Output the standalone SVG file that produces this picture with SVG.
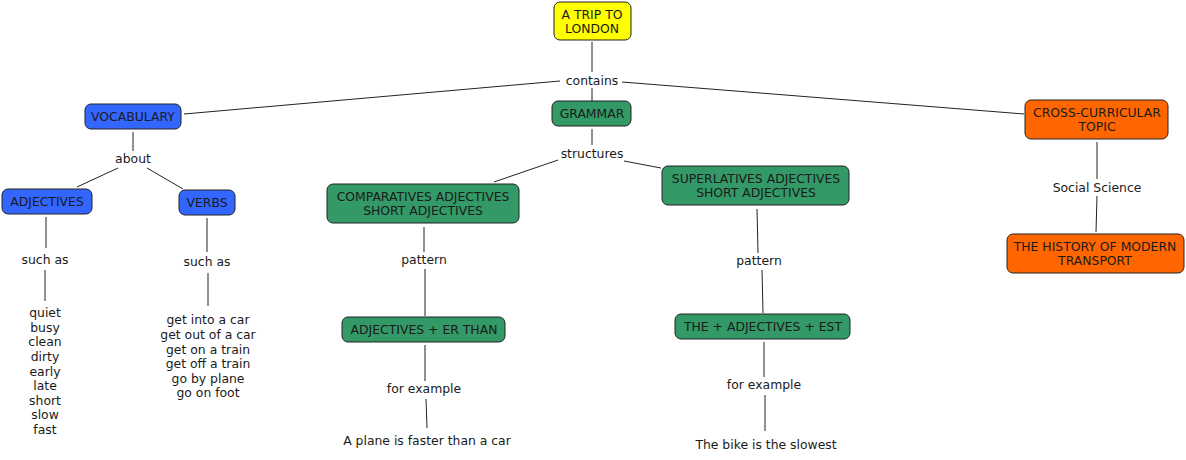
<svg xmlns="http://www.w3.org/2000/svg" width="1186" height="460" viewBox="0 0 1186 460">
<style>
text{font-family:"DejaVu Sans",Verdana,sans-serif;font-size:12.4px;fill:#1a1a1a;text-anchor:middle}
.n{stroke:#222;stroke-width:1}
.y{fill:#ffff00}.b{fill:#3366ff}.g{fill:#339966}.o{fill:#ff6600}
#connectors line{stroke:#222;stroke-width:1}
</style>
<rect width="1186" height="460" fill="#fff"/>
<g id="connectors">
<line x1="592" y1="42" x2="592" y2="72"/>
<line x1="592" y1="88" x2="592" y2="101"/>
<line x1="560" y1="81" x2="184" y2="114"/>
<line x1="622" y1="82" x2="1024" y2="114"/>
<line x1="592" y1="129" x2="592" y2="145"/>
<line x1="558" y1="160" x2="494" y2="182"/>
<line x1="624" y1="161" x2="661" y2="168"/>
<line x1="133" y1="132" x2="133" y2="151"/>
<line x1="118" y1="168" x2="77" y2="187"/>
<line x1="147" y1="168" x2="183" y2="189"/>
<line x1="46" y1="217" x2="46" y2="248"/>
<line x1="45" y1="270" x2="45" y2="301"/>
<line x1="207" y1="218" x2="207" y2="252"/>
<line x1="208" y1="273" x2="208" y2="306"/>
<line x1="424" y1="227" x2="424" y2="252"/>
<line x1="425" y1="269" x2="425" y2="316"/>
<line x1="425" y1="345" x2="425" y2="381"/>
<line x1="426" y1="399" x2="427" y2="428"/>
<line x1="757" y1="209" x2="758" y2="253"/>
<line x1="762" y1="270" x2="763" y2="313"/>
<line x1="764" y1="342" x2="764" y2="377"/>
<line x1="765" y1="395" x2="765" y2="431"/>
<line x1="1097" y1="142" x2="1097" y2="179"/>
<line x1="1097" y1="196" x2="1096" y2="232"/>
</g>
<g id="n-trip"><rect class="n y" x="554" y="2" width="77" height="38" rx="6"/><text x="592" y="19">A TRIP TO</text><text x="592" y="33">LONDON</text></g>
<g id="l-contains"><text x="592" y="85">contains</text></g>
<g id="n-vocab"><rect class="n b" x="85" y="104" width="96" height="25" rx="6"/><text x="133" y="121">VOCABULARY</text></g>
<g id="n-grammar"><rect class="n g" x="552" y="101" width="79" height="25" rx="6"/><text x="592" y="118">GRAMMAR</text></g>
<g id="n-cross"><rect class="n o" x="1025" y="100" width="143" height="39" rx="6"/><text x="1097" y="117">CROSS-CURRICULAR</text><text x="1097" y="131">TOPIC</text></g>
<g id="l-about"><text x="133" y="163">about</text></g>
<g id="n-adj"><rect class="n b" x="2" y="189" width="90" height="25" rx="6"/><text x="47" y="206">ADJECTIVES</text></g>
<g id="n-verbs"><rect class="n b" x="179" y="190" width="56" height="25" rx="6"/><text x="207" y="207">VERBS</text></g>
<g id="l-structures"><text x="592" y="158">structures</text></g>
<g id="n-comp"><rect class="n g" x="327" y="184" width="192" height="39" rx="6"/><text x="423" y="201">COMPARATIVES ADJECTIVES</text><text x="423" y="215">SHORT ADJECTIVES</text></g>
<g id="n-super"><rect class="n g" x="662" y="166" width="187" height="39" rx="6"/><text x="756" y="183">SUPERLATIVES ADJECTIVES</text><text x="756" y="197">SHORT ADJECTIVES</text></g>
<g id="l-social"><text x="1097" y="192">Social Science</text></g>
<g id="n-history"><rect class="n o" x="1007" y="234" width="177" height="39" rx="6"/><text x="1095" y="251">THE HISTORY OF MODERN</text><text x="1095" y="265">TRANSPORT</text></g>
<g id="l-suchas1"><text x="45" y="264">such as</text></g>
<g id="l-suchas2"><text x="207" y="266">such as</text></g>
<g id="t-adjlist"><text x="45" y="317">quiet</text><text x="45" y="332">busy</text><text x="45" y="346">clean</text><text x="45" y="361">dirty</text><text x="45" y="376">early</text><text x="45" y="390">late</text><text x="45" y="405">short</text><text x="45" y="419">slow</text><text x="45" y="434">fast</text></g>
<g id="t-verblist"><text x="208" y="324">get into a car</text><text x="208" y="339">get out of a car</text><text x="208" y="354">get on a train</text><text x="208" y="368">get off a train</text><text x="208" y="383">go by plane</text><text x="208" y="397">go on foot</text></g>
<g id="l-pattern1"><text x="424" y="264">pattern</text></g>
<g id="l-pattern2"><text x="759" y="265">pattern</text></g>
<g id="n-er"><rect class="n g" x="342" y="317" width="163" height="25" rx="6"/><text x="424" y="334">ADJECTIVES + ER THAN</text></g>
<g id="n-est"><rect class="n g" x="675" y="314" width="175" height="25" rx="6"/><text x="763" y="331">THE + ADJECTIVES + EST</text></g>
<g id="l-forex1"><text x="424" y="393">for example</text></g>
<g id="l-forex2"><text x="764" y="389">for example</text></g>
<g id="t-ex1"><text x="427" y="445">A plane is faster than a car</text></g>
<g id="t-ex2"><text x="766" y="449">The bike is the slowest</text></g>
</svg>
